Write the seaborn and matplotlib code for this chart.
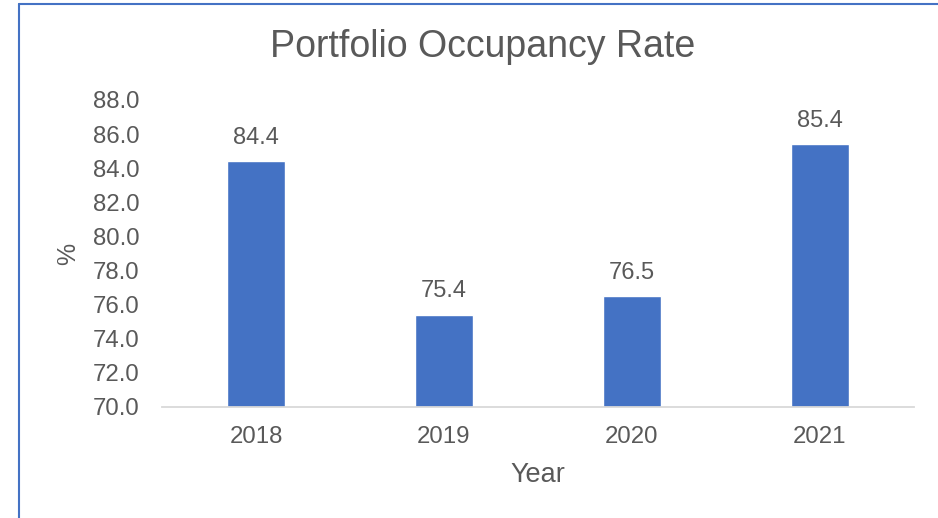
import matplotlib
matplotlib.use("Agg")
import matplotlib.pyplot as plt
import seaborn as sns
import pandas as pd
from matplotlib.lines import Line2D

# data
years = ["2018", "2019", "2020", "2021"]
occupancy = [84.4, 75.4, 76.5, 85.4]
y_ticks = [70, 72, 74, 76, 78, 80, 82, 84, 86, 88]

df = pd.DataFrame({"Year": years, "Occupancy": occupancy})

sns.set_style("white")
plt.rcParams["font.family"] = ["Liberation Sans", "DejaVu Sans"]

text_col = "#595959"
bar_col = "#4472C4"

fig = plt.figure(figsize=(9.38, 5.18), dpi=100)
ax = fig.add_axes([0.1727, 0.2143, 0.8017, 0.5927])

sns.barplot(data=df, x="Year", y="Occupancy", color=bar_col, width=0.31,
            saturation=1, ax=ax)

ax.set_ylim(70, 88)
ax.set_xlim(-0.5, 3.5)
ax.set_yticks(y_ticks)
ax.set_yticklabels([f"{v:.1f}" for v in y_ticks])
ax.tick_params(axis="both", length=0, labelsize=17.3, labelcolor=text_col)
ax.tick_params(axis="y", pad=16)
ax.tick_params(axis="x", pad=14)

for side in ["top", "right", "left"]:
    ax.spines[side].set_visible(False)
ax.spines["bottom"].set_color("#D9D9D9")
ax.spines["bottom"].set_linewidth(1.3)

ax.bar_label(ax.containers[0], fmt="%.1f", padding=9, fontsize=17, color=text_col)

ax.set_xlabel("Year", fontsize=19.5, color=text_col, labelpad=10)
ax.set_ylabel("%", fontsize=18, color=text_col, labelpad=9)

fig.text(0.515, 0.91, "Portfolio Occupancy Rate", ha="center", va="center",
         fontsize=27, color=text_col)

# chart frame edges visible in the reference (left and top)
fig.add_artist(Line2D([19 / 938, 19 / 938], [0, 1 - 4 / 518], color="#4472C4", lw=1.5,
                      transform=fig.transFigure))
fig.add_artist(Line2D([19 / 938, 1], [1 - 4 / 518, 1 - 4 / 518], color="#4472C4", lw=1.5,
                      transform=fig.transFigure))

fig.savefig("out.png", dpi=100)
